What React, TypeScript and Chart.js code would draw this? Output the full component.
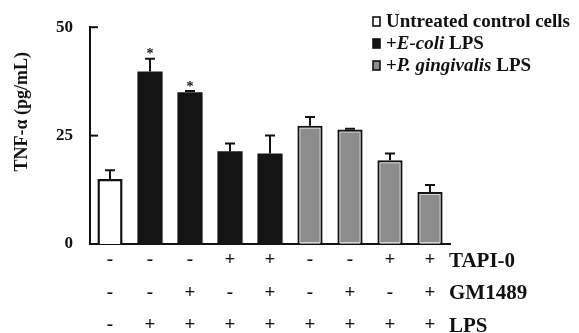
import React, { useEffect, useRef } from "react";
import { Chart, registerables } from "chart.js";

Chart.register(...registerables);

// ---- data ----
const categories = ["C", "E1", "E2", "E3", "E4", "P1", "P2", "P3", "P4"];
const values = [15.0, 39.8, 35.0, 21.4, 20.9, 27.3, 26.4, 19.3, 12.0];
const errorTops = [17.0, 42.7, 35.3, 23.2, 25.0, 29.3, 26.6, 20.9, 13.6];
const groups = ["control", "ecoli", "ecoli", "ecoli", "ecoli", "pg", "pg", "pg", "pg"];
const significant = [false, true, true, false, false, false, false, false, false];
const tapi = ["-", "-", "-", "+", "+", "-", "-", "+", "+"];
const gm = ["-", "-", "+", "-", "+", "-", "+", "-", "+"];
const lps = ["-", "+", "+", "+", "+", "+", "+", "+", "+"];
const rowNames = ["TAPI-0", "GM1489", "LPS"];
const yTickValues = [0, 25, 50];
const yTitle = "TNF-α (pg/mL)";
const legendGroups = ["control", "ecoli", "pg"];
const legendTexts: { t: string; i: boolean }[][] = [
  [{ t: "Untreated control cells", i: false }],
  [{ t: "+", i: false }, { t: "E-coli", i: true }, { t: " LPS", i: false }],
  [{ t: "+", i: false }, { t: "P. gingivalis", i: true }, { t: " LPS", i: false }],
];

const fillFor: Record<string, string> = { control: "#ffffff", ecoli: "#141414", pg: "#8c8c8c" };
const FONT = "'Liberation Serif', 'DejaVu Serif', serif";
const LINE_H = 32.5;
const X_PAD = 0;

const overlayPlugin = {
  id: "overlay",
  afterDatasetsDraw(chart: any) {
    const ctx = chart.ctx;
    const y = chart.scales.y;
    const x = chart.scales.x;
    const meta = chart.getDatasetMeta(0);
    ctx.save();
    // error bars
    ctx.strokeStyle = "#111";
    ctx.lineWidth = 2;
    meta.data.forEach((bar: any, i: number) => {
      const top = y.getPixelForValue(errorTops[i]);
      const base = y.getPixelForValue(values[i]);
      ctx.beginPath();
      ctx.moveTo(bar.x, base);
      ctx.lineTo(bar.x, top);
      ctx.moveTo(bar.x - 5, top);
      ctx.lineTo(bar.x + 5, top);
      ctx.stroke();
      if (groups[i] === "pg") {
        const w = bar.width;
        ctx.save();
        ctx.strokeStyle = "#d8d8d8";
        ctx.lineWidth = 1;
        ctx.strokeRect(bar.x - w / 2 + 2.5, base + 2.5, w - 5, bar.base - base - 4);
        ctx.restore();
      }
      if (significant[i]) {
        ctx.fillStyle = "#111";
        ctx.font = `bold 14px ${FONT}`;
        ctx.textAlign = "center";
        ctx.textBaseline = "middle";
        ctx.fillText("*", bar.x, top - 4);
      }
    });
    // inward y ticks
    ctx.lineWidth = 2;
    yTickValues.forEach((v) => {
      if (v === 0) return;
      const py = y.getPixelForValue(v);
      ctx.beginPath();
      ctx.moveTo(chart.chartArea.left, py);
      ctx.lineTo(chart.chartArea.left + 8, py);
      ctx.stroke();
    });
    // y title
    ctx.save();
    ctx.translate(22, y.getPixelForValue(30.5));
    ctx.rotate(-Math.PI / 2);
    ctx.fillStyle = "#111";
    ctx.font = `bold 18px ${FONT}`;
    ctx.textAlign = "center";
    ctx.textBaseline = "middle";
    ctx.fillText(yTitle, 0, 0);
    ctx.restore();
    // row names of the treatment table
    ctx.fillStyle = "#111";
    ctx.font = `bold 21px ${FONT}`;
    ctx.textAlign = "left";
    ctx.textBaseline = "middle";
    const lastX = x.getPixelForValue(categories.length - 1);
    rowNames.forEach((n, r) => {
      ctx.fillText(n, lastX + 19, x.top + X_PAD + LINE_H * (r + 0.5) + 1);
    });
    // legend
    const lx = 373;
    legendGroups.forEach((g, r) => {
      const cy = 21 + r * 22;
      ctx.fillStyle = fillFor[g];
      ctx.fillRect(lx, cy - 4, 7, 9);
      ctx.strokeStyle = "#111";
      ctx.lineWidth = 1.6;
      ctx.strokeRect(lx, cy - 4, 7, 9);
      let tx = lx + 13;
      legendTexts[r].forEach((seg) => {
        ctx.font = `${seg.i ? "italic " : ""}bold 19px ${FONT}`;
        ctx.fillStyle = "#111";
        ctx.fillText(seg.t, tx, cy + 1);
        tx += ctx.measureText(seg.t).width;
      });
    });
    ctx.restore();
  },
};

export default function App() {
  const ref = useRef<HTMLCanvasElement>(null);
  useEffect(() => {
    if (!ref.current) return;
    const chart = new Chart(ref.current, {
      type: "bar",
      data: {
        labels: categories.map((_, i) => [tapi[i], gm[i], lps[i]]),
        datasets: [
          {
            data: values,
            backgroundColor: groups.map((g) => fillFor[g]),
            borderColor: "#111",
            borderWidth: groups.map((g) => (g === "ecoli" ? 0 : 2.5)),
            borderSkipped: "bottom",
            categoryPercentage: 1,
            barPercentage: 0.63,
          },
        ],
      },
      options: {
        responsive: false,
        animation: false,
        layout: { padding: { left: 0, right: 129, top: 24, bottom: 0 } },
        plugins: { legend: { display: false }, tooltip: { enabled: false } },
        scales: {
          x: {
            grid: { display: false, drawTicks: false },
            border: { display: true, color: "#111", width: 2 },
            ticks: {
              color: "#111",
              padding: X_PAD,
              maxRotation: 0,
              autoSkip: false,
              font: { family: FONT, size: 19, weight: "bold", lineHeight: `${LINE_H}px` },
            },
            afterFit: (s: any) => {
              s.height = 89;
            },
          },
          y: {
            min: 0,
            max: 50,
            afterBuildTicks: (s: any) => {
              s.ticks = yTickValues.map((v) => ({ value: v }));
            },
            grid: { display: false, drawTicks: false },
            border: { display: true, color: "#111", width: 2 },
            ticks: {
              color: "#111",
              padding: 17,
              font: { family: FONT, size: 17, weight: "bold" },
            },
            afterFit: (s: any) => {
              s.width = 90;
            },
          },
        },
      },
      plugins: [overlayPlugin],
    } as any);
    return () => chart.destroy();
  }, []);
  return (
    <div style={{ position: "absolute", left: 0, top: 0, width: 579, height: 333, background: "#fff" }}>
      <canvas ref={ref} width={579} height={333} />
    </div>
  );
}
